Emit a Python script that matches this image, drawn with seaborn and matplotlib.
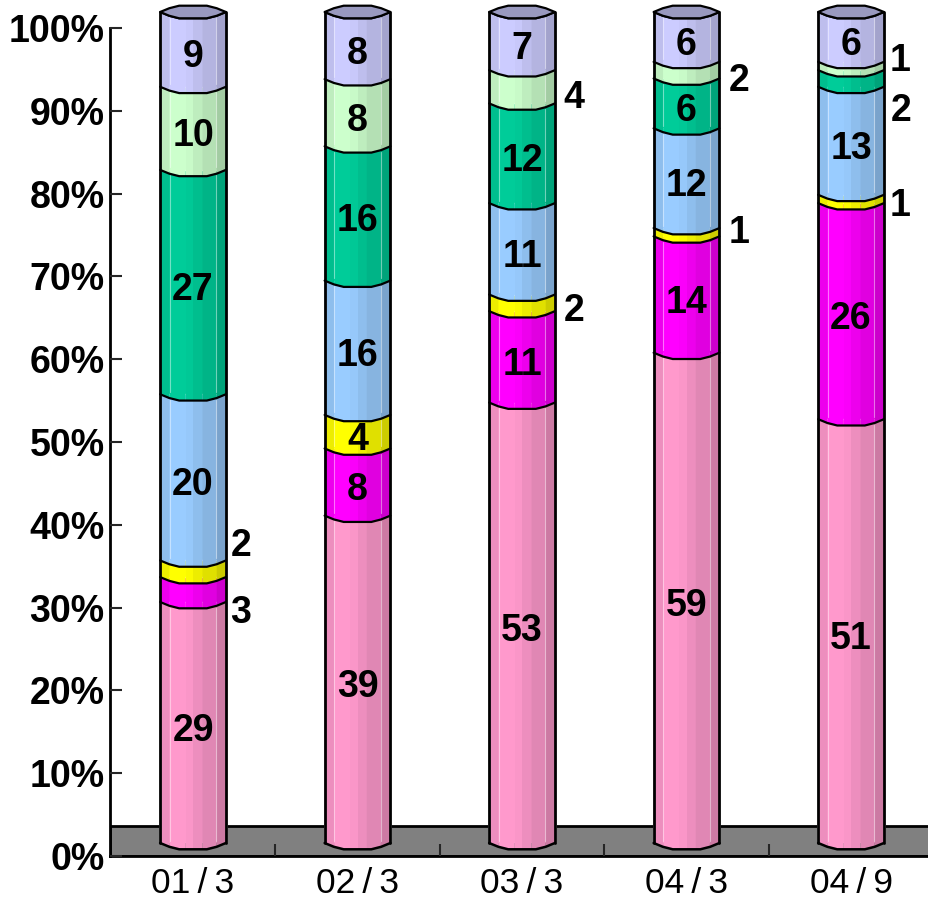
import numpy as np
import pandas as pd
import matplotlib
matplotlib.use("Agg")
import matplotlib.pyplot as plt
import matplotlib.colors as mcolors
from matplotlib.patches import Polygon
import seaborn as sns

periods = ["01/3", "02/3", "03/3", "04/3", "04/9"]
series_names = ["s1", "s2", "s3", "s4", "s5", "s6", "s7"]
s1 = [29, 39, 53, 59, 51]
s2 = [3, 8, 11, 14, 26]
s3 = [2, 4, 2, 1, 1]
s4 = [20, 16, 11, 12, 13]
s5 = [27, 16, 12, 6, 2]
s6 = [10, 8, 4, 2, 1]
s7 = [9, 8, 7, 6, 6]
series_colors = ["#FF99CC", "#FF00FF", "#FFFF00", "#99CCFF", "#00CC99", "#CCFFCC", "#CCCCFF"]

# Labels set beside a column, as pixel offsets from the segment's middle: (column, series): (dx, dy)
outside_labels = {
    (0, 1): (48, 23), (0, 2): (48, -23),
    (2, 2): (52, 8), (2, 5): (52, 11),
    (3, 2): (53, 1), (3, 5): (53, 11),
    (4, 2): (49, 7), (4, 4): (50, 33), (4, 5): (49, -5),
}

sns.set_theme(style="white")
plt.rcParams["font.family"] = ["Liberation Sans", "DejaVu Sans"]

W, H = 929, 902
fig = plt.figure(figsize=(W / 100, H / 100), dpi=100, facecolor="white")


def pixel_axes(left, right, top, bottom):
    return fig.add_axes([left / W, 1 - bottom / H, (right - left) / W, (bottom - top) / H])


# Frame with the percentage scale and the grey floor
ax = pixel_axes(110, 929, 28, 856)
xlim = (-0.5046, 4.474)
ax.set_xlim(xlim)
ax.set_ylim(0, 100)
ax.axhspan(0, 3.6, facecolor="#808080", edgecolor="black", linewidth=2, zorder=1)
ax.set_axisbelow(False)
for side in ("top", "right"):
    ax.spines[side].set_visible(False)
for side in ("left", "bottom"):
    ax.spines[side].set_color("black")
    ax.spines[side].set_linewidth(2)
ax.set_yticks(np.arange(0, 101, 10))
ax.set_yticklabels([f"{v}%" for v in range(0, 101, 10)], fontsize=27, fontweight="bold", color="black")
ax.tick_params(axis="y", which="major", direction="in", left=True, length=8.5, width=1.5, pad=4)
ax.set_xticks(range(len(periods)))
ax.set_xticklabels([p.replace("/", "\u2009/\u2009") for p in periods], fontsize=25.5, color="black")
ax.tick_params(axis="x", which="major", length=0, pad=8)
ax.set_xticks(np.arange(0.5, 4.4, 1), minor=True)
ax.tick_params(axis="x", which="minor", direction="in", bottom=True, length=8.5, width=1.5)

# Columns live on their own axes, raised above the floor line
bx = pixel_axes(110, 929, 12, 843)
bx.patch.set_alpha(0)

values = np.array([s1, s2, s3, s4, s5, s6, s7], dtype=float)
shares = values / values.sum(axis=0) * 100
tops = np.cumsum(shares, axis=0)
bottoms = tops - shares

long_form = pd.DataFrame([
    {"period": periods[c], "series": series_names[s], "top": tops[s, c]}
    for s in reversed(range(len(series_names))) for c in range(len(periods))
])
sns.barplot(data=long_form, x="period", y="top", hue="series", order=periods,
            hue_order=series_names[::-1], dodge=False, width=0.4, saturation=1,
            palette=dict(zip(series_names, series_colors)), legend=False, ax=bx, zorder=1)
bx.set_xlim(xlim)
bx.set_ylim(0, 100)
bx.axis("off")

half = 0.2
depth = 6.3 / 8.31
profile_x = np.array([-1, -0.72, -0.42, 0.42, 0.72, 1])
profile_d = np.array([0, 0.6, 1, 1, 0.6, 0])
facet_edges = [-1, -0.71, -0.22, 0.0, 0.28, 0.71, 1]
facet_shade = [0.93, 1.0, 0.98, 0.93, 0.88, 0.8]


def front(fx):
    return np.interp(fx, profile_x, profile_d) * depth


def shaded(color, k):
    return tuple(np.array(mcolors.to_rgb(color)) * k)


for c in range(len(periods)):
    for s, color in enumerate(series_colors):
        lo, hi = bottoms[s, c], tops[s, c]
        for a, b, k in zip(facet_edges[:-1], facet_edges[1:], facet_shade):
            fx = np.unique(np.r_[a, b, profile_x[(profile_x > a) & (profile_x < b)]])
            upper = np.c_[c + fx * half, hi - front(fx)]
            lower = np.c_[c + fx * half, lo - front(fx)]
            bx.add_patch(Polygon(np.r_[upper, lower[::-1]], closed=True, facecolor=shaded(color, k),
                                 edgecolor="none", zorder=2, clip_on=False))
        # pale highlight running along the facets
        if hi - lo > 3:
            for fx in (-0.71, 0.71):
                bx.plot([c + fx * half] * 2, [lo + 0.3, hi - front(fx) - 0.2], color="white",
                        alpha=0.45, lw=0.8, zorder=2.5, clip_on=False)
        # front rim of the segment
        bx.plot(c + profile_x * half, hi - profile_d * depth, color="black", lw=1.6, zorder=3, clip_on=False)

    # closed bottom rim, outer sides and top cap
    bx.plot(c + profile_x * half, -profile_d * depth, color="black", lw=1.8, zorder=3, clip_on=False)
    bx.plot([c - half, c - half], [0, 100], color="black", lw=2, zorder=3, clip_on=False)
    bx.plot([c + half, c + half], [0, 100], color="black", lw=2, zorder=3, clip_on=False)
    cap = np.r_[np.c_[c + profile_x * half, 100 + profile_d * depth],
                np.c_[c + profile_x[::-1] * half, 100 - profile_d[::-1] * depth]]
    bx.add_patch(Polygon(cap, closed=True, facecolor=shaded(series_colors[-1], 0.75), edgecolor="black",
                         linewidth=1.6, zorder=4, clip_on=False))

    for s in range(len(series_names)):
        dx, dy = outside_labels.get((c, s), (0, 8))
        bx.annotate(f"{int(values[s, c])}", (c, (bottoms[s, c] + tops[s, c]) / 2),
                    xytext=(dx * 0.72, -dy * 0.72), textcoords="offset points", ha="center", va="center",
                    fontsize=27, fontweight="bold", color="black", zorder=5, annotation_clip=False)

fig.savefig("out.png", dpi=100)
